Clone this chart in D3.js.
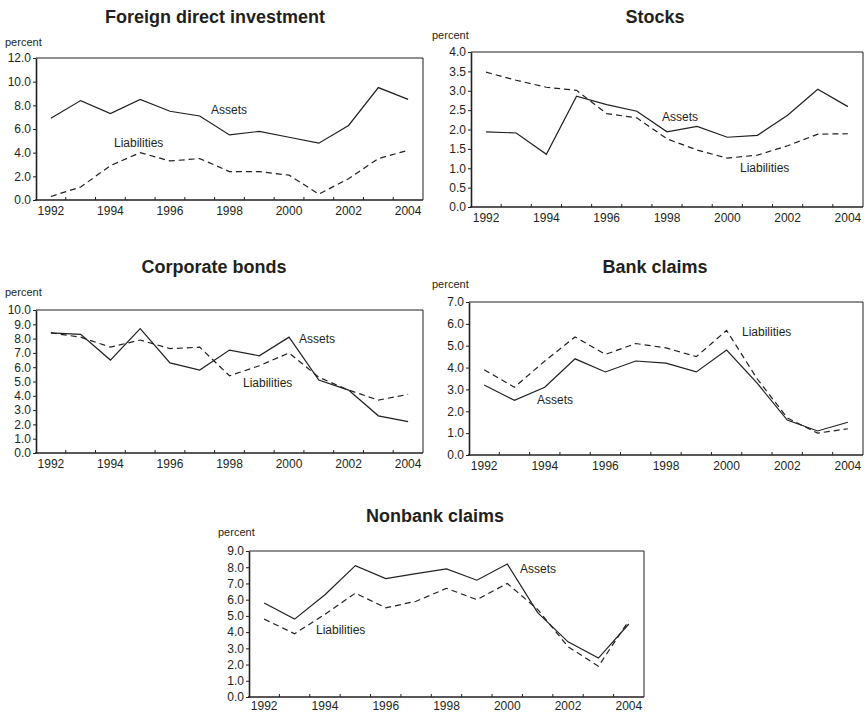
<!DOCTYPE html>
<html>
<head>
<meta charset="utf-8">
<script src="https://cdn.jsdelivr.net/npm/d3@7"></script>
<style>
  body { margin: 0; background: #fff; }
  svg { display: block; font-family: "Liberation Sans", Arial, Helvetica, sans-serif; }
  .title { font-weight: bold; font-size: 18px; fill: #231f20; }
  .unit { font-size: 11px; fill: #231f20; }
  .tick text { font-size: 12px; fill: #231f20; }
  .note { font-size: 12px; fill: #231f20; }
</style>
</head>
<body>
<script>
// years on the x axis, labels only on even years
const years = [1992, 1993, 1994, 1995, 1996, 1997, 1998, 1999, 2000, 2001, 2002, 2003, 2004];
const yearLabels = [1992, 1994, 1996, 1998, 2000, 2002, 2004];

// Foreign direct investment
const fdiAssets = [6.9, 8.4, 7.3, 8.5, 7.5, 7.1, 5.5, 5.8, 5.3, 4.8, 6.3, 9.5, 8.5];
const fdiLiabilities = [0.3, 1.1, 2.9, 4.0, 3.3, 3.5, 2.4, 2.4, 2.1, 0.5, 1.8, 3.5, 4.2];

// Stocks
const stockAssets = [1.94, 1.91, 1.36, 2.86, 2.64, 2.47, 1.94, 2.08, 1.80, 1.85, 2.37, 3.04, 2.59];
const stockLiabilities = [3.48, 3.27, 3.09, 3.01, 2.41, 2.30, 1.76, 1.47, 1.26, 1.34, 1.58, 1.88, 1.89];

// Corporate bonds
const bondAssets = [8.4, 8.3, 6.5, 8.7, 6.3, 5.8, 7.2, 6.8, 8.1, 5.1, 4.4, 2.6, 2.2];
const bondLiabilities = [8.4, 8.1, 7.4, 7.9, 7.3, 7.4, 5.4, 6.1, 7.0, 5.3, 4.4, 3.7, 4.1];

// Bank claims
const bankAssets = [3.2, 2.5, 3.1, 4.4, 3.8, 4.3, 4.2, 3.8, 4.8, 3.3, 1.6, 1.1, 1.5];
const bankLiabilities = [3.9, 3.1, 4.3, 5.4, 4.6, 5.1, 4.9, 4.5, 5.7, 3.5, 1.7, 1.0, 1.2];

// Nonbank claims
const nonbankAssets = [5.8, 4.8, 6.3, 8.1, 7.3, 7.6, 7.9, 7.2, 8.2, 5.2, 3.4, 2.4, 4.5];
const nonbankLiabilities = [4.8, 3.9, 5.1, 6.4, 5.5, 5.9, 6.7, 6.0, 7.0, 5.4, 3.1, 1.9, 4.7];

const width = 865;
const height = 713;

const svg = d3.select("body").append("svg")
    .attr("width", width)
    .attr("height", height);

// layout of each panel (plot box in px, where labels sit)
const panels = [
    { title: "Foreign direct investment", assets: fdiAssets, liabilities: fdiLiabilities,
      box: { left: 36, right: 423, top: 58, bottom: 200 }, yMax: 12, yStep: 2, labelDy: 15,
      titleX: 215, titleY: 23, unitX: 5, unitY: 46,
      assetsLabel: [211, 114], liabLabel: [114, 147] },
    { title: "Stocks", assets: stockAssets, liabilities: stockLiabilities,
      box: { left: 471, right: 863, top: 52, bottom: 207 }, yMax: 4, yStep: 0.5, labelDy: 15,
      titleX: 655, titleY: 23, unitX: 432, unitY: 39,
      assetsLabel: [662, 121], liabLabel: [740, 172] },
    { title: "Corporate bonds", assets: bondAssets, liabilities: bondLiabilities,
      box: { left: 36, right: 423, top: 310, bottom: 453 }, yMax: 10, yStep: 1, labelDy: 15,
      titleX: 214, titleY: 273, unitX: 5, unitY: 296,
      assetsLabel: [299, 343], liabLabel: [243, 387] },
    { title: "Bank claims", assets: bankAssets, liabilities: bankLiabilities,
      box: { left: 469, right: 863, top: 302, bottom: 455 }, yMax: 7, yStep: 1, labelDy: 15,
      titleX: 655, titleY: 273, unitX: 432, unitY: 288,
      assetsLabel: [537, 404], liabLabel: [742, 336] },
    { title: "Nonbank claims", assets: nonbankAssets, liabilities: nonbankLiabilities,
      box: { left: 249, right: 644, top: 551, bottom: 697 }, yMax: 9, yStep: 1, labelDy: 12.5,
      titleX: 435, titleY: 522, unitX: 218, unitY: 536,
      assetsLabel: [520, 573], liabLabel: [316, 634] }
];

panels.forEach(p => drawPanel(p));

function drawPanel(p) {
    const b = p.box;

    const x = d3.scaleBand()
        .domain(years)
        .range([b.left, b.right]);

    const y = d3.scaleLinear()
        .domain([0, p.yMax])
        .range([b.bottom, b.top]);

    const g = svg.append("g");

    g.append("text")
        .attr("class", "title")
        .attr("x", p.titleX)
        .attr("y", p.titleY)
        .attr("text-anchor", "middle")
        .text(p.title);

    g.append("text")
        .attr("class", "unit")
        .attr("x", p.unitX)
        .attr("y", p.unitY)
        .text("percent");

    // frame: top and right edges
    g.append("path")
        .attr("d", `M${b.left},${b.top}H${b.right}V${b.bottom}`)
        .attr("fill", "none")
        .attr("stroke", "#231f20")
        .attr("stroke-width", 1);

    const yTicks = d3.range(0, p.yMax + p.yStep / 2, p.yStep);

    const yAxis = g.append("g")
        .attr("transform", `translate(${b.left},0)`)
        .call(d3.axisLeft(y)
            .tickValues(yTicks)
            .tickFormat(d3.format(".1f"))
            .tickSize(3)
            .tickPadding(2)
            .tickSizeOuter(0));
    yAxis.select(".domain").attr("stroke", "#231f20").attr("stroke-width", 1.6);
    yAxis.selectAll(".tick line").attr("stroke", "#231f20");
    yAxis.selectAll(".tick text").attr("font-family", null).attr("font-size", null);

    // x axis: ticks between years pointing up, labels on even years
    const xAxis = g.append("g")
        .attr("transform", `translate(0,${b.bottom})`);

    xAxis.append("line")
        .attr("x1", b.left - 1)
        .attr("x2", b.right)
        .attr("stroke", "#231f20")
        .attr("stroke-width", 1.6);

    xAxis.selectAll(".sep")
        .data(years.slice(1))
        .join("line")
        .attr("class", "sep")
        .attr("x1", d => x(d))
        .attr("x2", d => x(d))
        .attr("y1", 0)
        .attr("y2", -3)
        .attr("stroke", "#231f20");

    xAxis.selectAll(".tick")
        .data(yearLabels)
        .join("g")
        .attr("class", "tick")
        .append("text")
        .attr("x", d => x(d) + x.bandwidth() / 2)
        .attr("y", p.labelDy)
        .attr("text-anchor", "middle")
        .text(d => d);

    const line = d3.line()
        .x((d, i) => x(years[i]) + x.bandwidth() / 2)
        .y(d => y(d));

    g.append("path")
        .datum(p.liabilities)
        .attr("d", line)
        .attr("fill", "none")
        .attr("stroke", "#231f20")
        .attr("stroke-width", 1.2)
        .attr("stroke-dasharray", "6,4");

    g.append("path")
        .datum(p.assets)
        .attr("d", line)
        .attr("fill", "none")
        .attr("stroke", "#231f20")
        .attr("stroke-width", 1.2);

    g.append("text")
        .attr("class", "note")
        .attr("x", p.assetsLabel[0])
        .attr("y", p.assetsLabel[1])
        .text("Assets");

    g.append("text")
        .attr("class", "note")
        .attr("x", p.liabLabel[0])
        .attr("y", p.liabLabel[1])
        .text("Liabilities");
}
</script>
</body>
</html>
